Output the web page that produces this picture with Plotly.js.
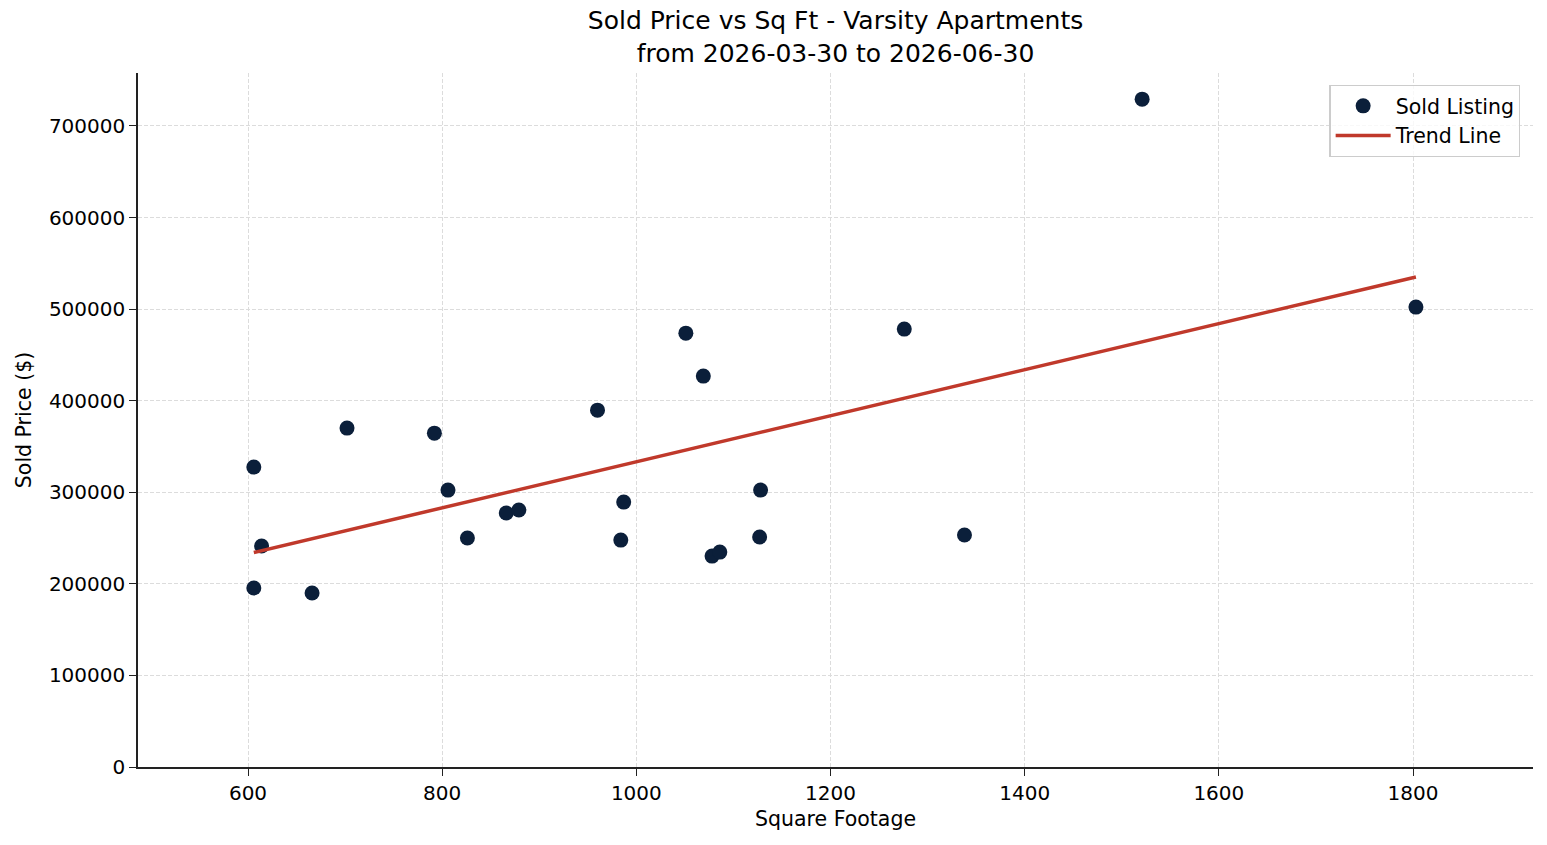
<!DOCTYPE html>
<html>
<head>
<meta charset="utf-8">
<script src="https://cdn.plot.ly/plotly-3.0.1.min.js"></script>
<style>html,body{margin:0;padding:0;background:#fff;}#chart{width:1547px;height:845px;}</style>
</head>
<body>
<div id="chart"></div>
<script>
const sqft = [606, 614, 606, 666, 702, 792, 806, 826, 866, 879, 960, 984, 987, 1051, 1069, 1078, 1086, 1127, 1128, 1276, 1338, 1521, 1803];
const soldPrice = [327500, 241300, 195400, 190000, 370100, 364600, 302400, 250000, 277300, 280600, 389700, 247800, 289300, 473800, 426900, 230300, 234700, 251100, 302400, 478200, 253300, 729300, 502200];
const xTicks = [600, 800, 1000, 1200, 1400, 1600, 1800];
const yTicks = [0, 100000, 200000, 300000, 400000, 500000, 600000, 700000];

// least-squares trend line from the data
const n = sqft.length;
const mx = sqft.reduce((a, b) => a + b, 0) / n;
const my = soldPrice.reduce((a, b) => a + b, 0) / n;
let sxy = 0, sxx = 0;
for (let i = 0; i < n; i++) { sxy += (sqft[i] - mx) * (soldPrice[i] - my); sxx += (sqft[i] - mx) ** 2; }
const slope = sxy / sxx, intercept = my - slope * mx;
const xMin = Math.min(...sqft), xMax = Math.max(...sqft);
const trendX = [xMin, xMax];
const trendY = trendX.map(x => intercept + slope * x);

const font = "DejaVu Sans, sans-serif";
const traces = [
  {x: sqft, y: soldPrice, type: 'scatter', mode: 'markers', name: 'Sold Listing',
   marker: {color: '#0b1f3a', size: 15, line: {width: 0}}},
  {x: trendX, y: trendY, type: 'scatter', mode: 'lines', name: 'Trend Line',
   line: {color: '#c0392b', width: 3.5}}
];
const axisCommon = {
  showline: true, linecolor: '#222', linewidth: 1.5, mirror: false,
  ticks: 'outside', ticklen: 7, tickwidth: 1.3, tickcolor: '#222',
  showgrid: true, gridcolor: '#dcdcdc', griddash: '4px,2px', gridwidth: 0.8,
  zeroline: false, tickfont: {family: font, size: 20, color: '#000'}
};
const layout = {
  width: 1547, height: 845,
  margin: {l: 138, r: 14, t: 73, b: 78},
  paper_bgcolor: '#fff', plot_bgcolor: '#fff',
  title: {text: 'Sold Price vs Sq Ft - Varsity Apartments<br>from 2026-03-30 to 2026-06-30',
          font: {family: font, size: 25, color: '#000'}, xref: 'paper', x: 0.5, xanchor: 'center', y: 0.9655, yanchor: 'top'},
  xaxis: Object.assign({}, axisCommon, {range: [486.7, 1923.6], tickvals: xTicks, ticktext: xTicks.map(String),
    title: {text: 'Square Footage', font: {family: font, size: 20.5, color: '#000'}, standoff: 8}}),
  yaxis: Object.assign({}, axisCommon, {range: [0, 757870], tickvals: yTicks, ticktext: yTicks.map(String),
    title: {text: 'Sold Price ($)', font: {family: font, size: 20.5, color: '#000'}, standoff: 12}}),
  showlegend: true,
  legend: {x: 0.991, xanchor: 'right', y: 0.983, yanchor: 'top', bgcolor: 'rgba(255,255,255,0.8)',
    bordercolor: '#cccccc', borderwidth: 1.2, itemwidth: 55, tracegroupgap: 0,
    font: {family: font, size: 20.5, color: '#000'}}
};
Plotly.newPlot('chart', traces, layout, {displayModeBar: false});
</script>
</body>
</html>
